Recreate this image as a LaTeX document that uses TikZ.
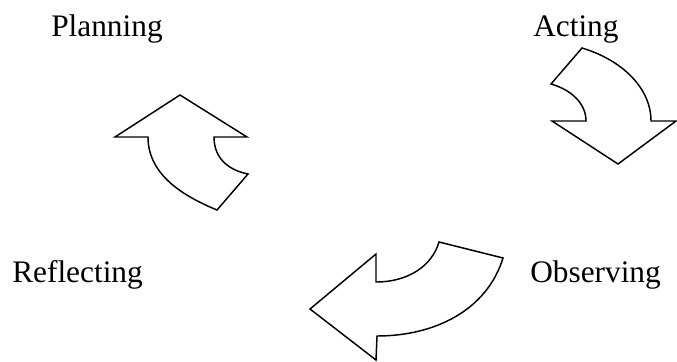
\documentclass[tikz,border=0pt]{standalone}
\usepackage{fontspec}
\setmainfont{Liberation Serif}
\usetikzlibrary{calc}
\tikzset{stage/.style={anchor=base west, inner sep=0pt, font=\fontsize{23.5}{28}\selectfont},
	curvedarrow/.style={draw=black, fill=white, line width=1.1pt, line join=miter}}

\begin{document}
\begin{tikzpicture}[x=0.75pt, y=-0.75pt]

	\useasboundingbox (0,0) rectangle (677,361);

	\node[stage] (plan) at (51,36) {Planning};
	\node[stage] (act) at (533,36) {Acting};
	\node[stage] (refl) at (12,282) {Reflecting};
	\node[stage] (obs) at (530,282) {Observing};

	% up arrow below Planning
	\draw[curvedarrow] (180,95) -- (247,137) -- (214,137)
		.. controls (214,158) and (228,170) .. (248,174) -- (217,210)
		.. controls (178,194) and (148,172) .. (148,137) -- (115,137) -- cycle;

	% down arrow below Acting
	\draw[curvedarrow] (582,48) .. controls (622,60) and (651,88) .. (651,121)
		-- (676,121) -- (618,164) -- (552,121) -- (586,121)
		.. controls (586,104) and (572,90) .. (551,84) -- cycle;

	% left arrow beside Observing
	\draw[curvedarrow] (310,309) -- (376,254) -- (376,282)
		.. controls (408,282) and (432,266) .. (439,242) -- (503,258)
		.. controls (487,310) and (435,336) .. (377,336) -- (376,360) -- cycle;

\end{tikzpicture}
\end{document}
